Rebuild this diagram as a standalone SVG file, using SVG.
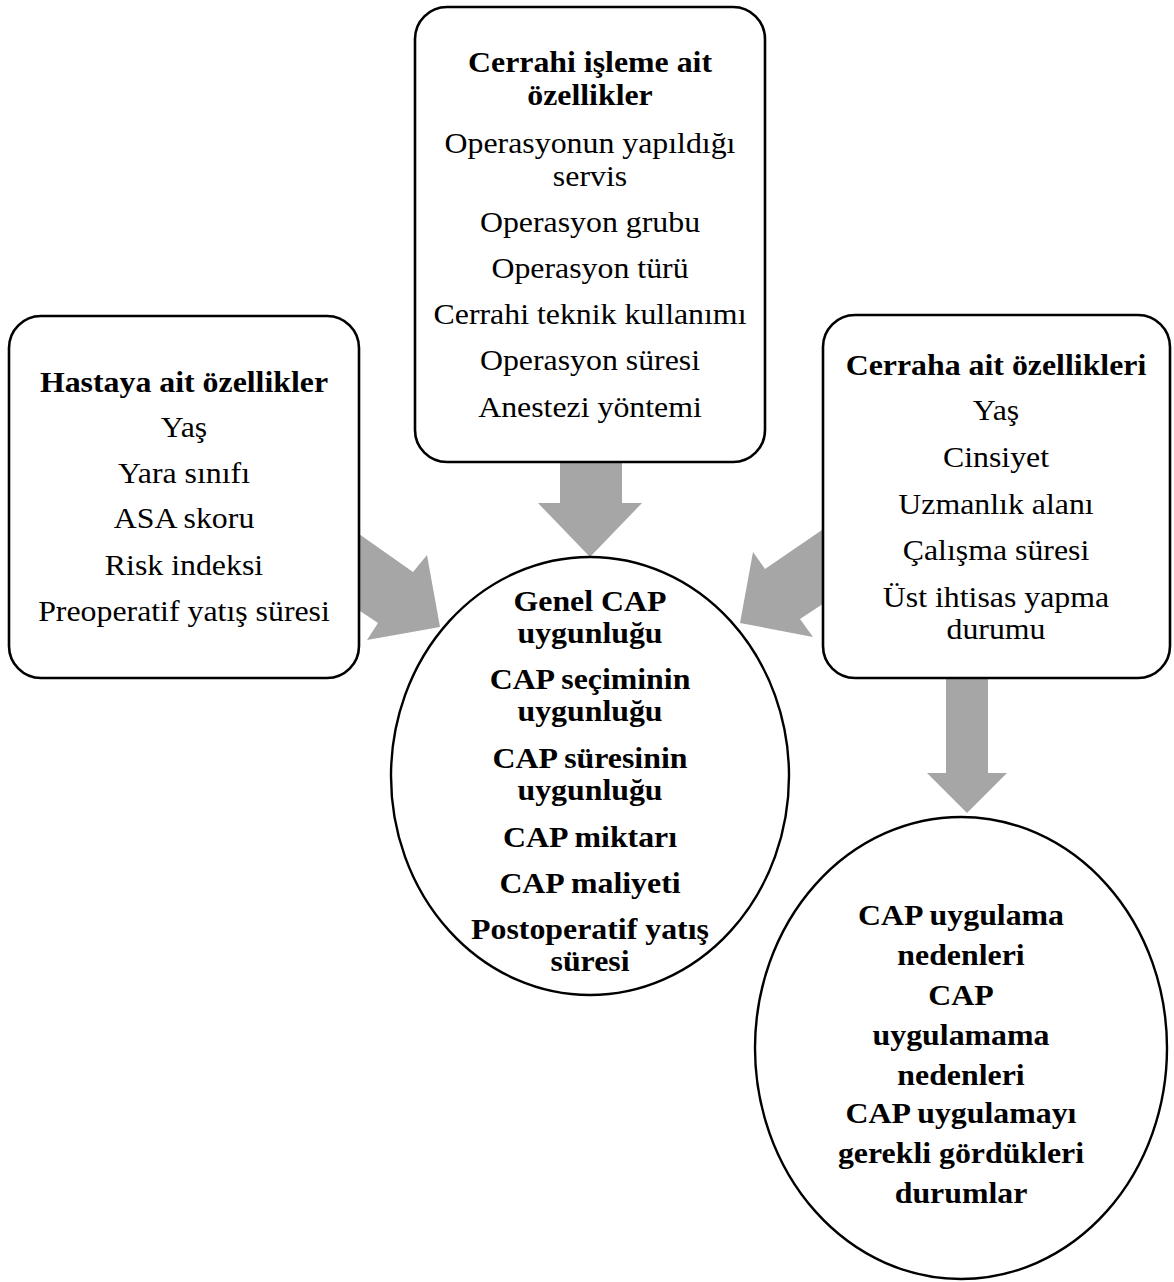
<svg xmlns="http://www.w3.org/2000/svg" width="1174" height="1282" viewBox="0 0 1174 1282">
<style>
.box{fill:#fff;stroke:#000;stroke-width:2.6}
.ell{fill:#fff;stroke:#000;stroke-width:2.4}
.arr{fill:#a6a6a6;stroke:none}
text{font-family:"Liberation Serif","Times New Roman",serif;font-size:28.7px;text-anchor:middle;fill:#000}
.b{font-weight:bold}
</style>
<rect width="1174" height="1282" fill="#fff"/>
<g id="connectors">
<polygon class="arr" points="560,450 622,450 622,503 642,503 590,557 538,503 560,503"/>
<polygon class="arr" points="342,522 413,572 427,555 440,627 367,640 378,623 342,599"/>
<polygon class="arr" points="838,519 765,569 753,552 740,623 813,637 800,619 838,594"/>
<polygon class="arr" points="946,665 988,665 988,773 1007,773 967,813 927,773 946,773"/>
</g>
<g id="node-cerrahi-islem">
<rect class="box" x="415" y="7" width="350" height="455" rx="32" ry="32"/>
<g transform="translate(590,0) scale(1.11,1)">
<text class="b" x="0" y="72">Cerrahi işleme ait</text>
<text class="b" x="0" y="105">özellikler</text>
<text x="0" y="153">Operasyonun yapıldığı</text>
<text x="0" y="186">servis</text>
<text x="0" y="232">Operasyon grubu</text>
<text x="0" y="278">Operasyon türü</text>
<text x="0" y="324">Cerrahi teknik kullanımı</text>
<text x="0" y="370">Operasyon süresi</text>
<text x="0" y="417">Anestezi yöntemi</text>
</g>
</g>
<g id="node-hasta">
<rect class="box" x="9" y="316" width="350" height="362" rx="32" ry="32"/>
<g transform="translate(184,0) scale(1.11,1)">
<text class="b" x="0" y="392">Hastaya ait özellikler</text>
<text x="0" y="437">Yaş</text>
<text x="0" y="483">Yara sınıfı</text>
<text x="0" y="528">ASA skoru</text>
<text x="0" y="575">Risk indeksi</text>
<text x="0" y="621">Preoperatif yatış süresi</text>
</g>
</g>
<g id="node-cerrah">
<rect class="box" x="823" y="315" width="347" height="363" rx="32" ry="32"/>
<g transform="translate(996,0) scale(1.11,1)">
<text class="b" x="0" y="375">Cerraha ait özellikleri</text>
<text x="0" y="420">Yaş</text>
<text x="0" y="467">Cinsiyet</text>
<text x="0" y="514">Uzmanlık alanı</text>
<text x="0" y="560">Çalışma süresi</text>
<text x="0" y="607">Üst ihtisas yapma</text>
<text x="0" y="639">durumu</text>
</g>
</g>
<g id="node-genel-cap">
<ellipse class="ell" cx="590" cy="776" rx="199" ry="219"/>
<g transform="translate(590,0) scale(1.11,1)">
<text class="b" x="0" y="611">Genel CAP</text>
<text class="b" x="0" y="643">uygunluğu</text>
<text class="b" x="0" y="689">CAP seçiminin</text>
<text class="b" x="0" y="721">uygunluğu</text>
<text class="b" x="0" y="768">CAP süresinin</text>
<text class="b" x="0" y="800">uygunluğu</text>
<text class="b" x="0" y="847">CAP miktarı</text>
<text class="b" x="0" y="893">CAP maliyeti</text>
<text class="b" x="0" y="939">Postoperatif yatış</text>
<text class="b" x="0" y="971">süresi</text>
</g>
</g>
<g id="node-cap-uygulama">
<ellipse class="ell" cx="961" cy="1048" rx="206" ry="231"/>
<g transform="translate(961,0) scale(1.11,1)">
<text class="b" x="0" y="925">CAP uygulama</text>
<text class="b" x="0" y="965">nedenleri</text>
<text class="b" x="0" y="1005">CAP</text>
<text class="b" x="0" y="1045">uygulamama</text>
<text class="b" x="0" y="1085">nedenleri</text>
<text class="b" x="0" y="1123">CAP uygulamayı</text>
<text class="b" x="0" y="1163">gerekli gördükleri</text>
<text class="b" x="0" y="1203">durumlar</text>
</g>
</g>
</svg>
